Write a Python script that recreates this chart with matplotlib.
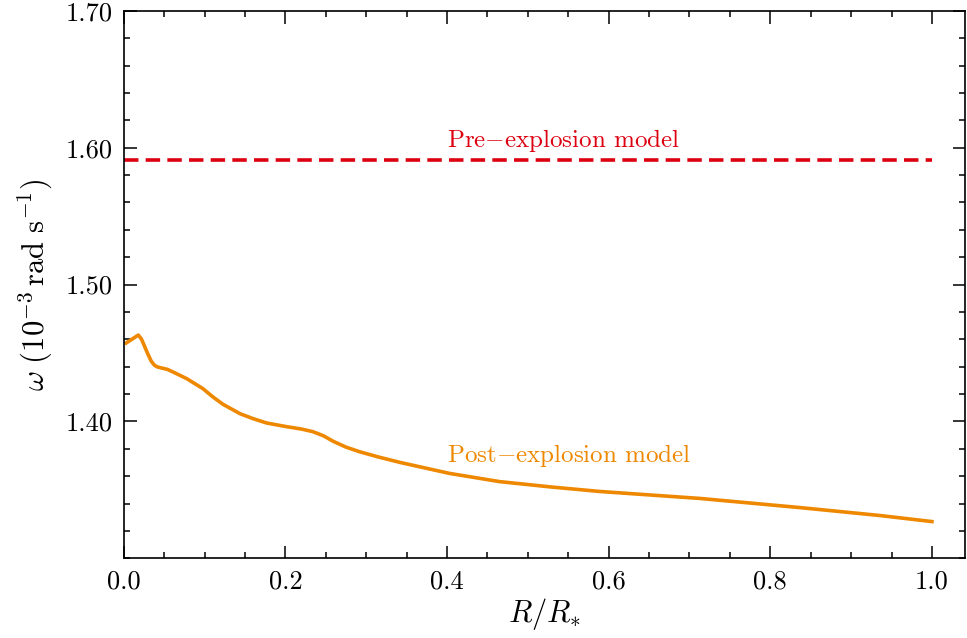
import matplotlib
matplotlib.use("Agg")
import matplotlib.pyplot as plt
from matplotlib.ticker import MultipleLocator, FormatStrFormatter

plt.rcParams["font.family"] = "serif"
plt.rcParams["font.serif"] = ["cmr10"]
plt.rcParams["mathtext.fontset"] = "cm"
plt.rcParams["axes.formatter.use_mathtext"] = True
plt.rcParams["axes.unicode_minus"] = False

# post-explosion angular velocity profile
r_post = [0.003, 0.010, 0.018, 0.022, 0.026, 0.030, 0.034, 0.038, 0.042,
          0.047, 0.054, 0.061, 0.078, 0.098, 0.110, 0.123, 0.144, 0.160,
          0.177, 0.201, 0.220, 0.234, 0.247, 0.259, 0.275, 0.292, 0.315,
          0.342, 0.403, 0.465, 0.530, 0.589, 0.713, 0.837, 0.936, 1.0]
w_post = [1.4573, 1.4600, 1.4631, 1.4600, 1.4545, 1.4490, 1.4440, 1.4410,
          1.4397, 1.4390, 1.4380, 1.4361, 1.4312, 1.4239, 1.4180, 1.4124,
          1.4056, 1.4020, 1.3988, 1.3962, 1.3944, 1.3925, 1.3895, 1.3855,
          1.3812, 1.3778, 1.3740, 1.3700, 1.3620, 1.3560, 1.3520, 1.3488,
          1.3437, 1.3370, 1.3312, 1.3268]

# pre-explosion model: uniform rotation
r_pre = [0.0, 1.0]
w_pre = [1.591, 1.591]

red = "#dd0011"
orange = "#ee8800"

fig = plt.figure(figsize=(9.67, 6.38), dpi=100)
ax = fig.add_axes([0.128, 0.125, 0.870, 0.858])

ax.plot(r_pre, w_pre, color=red, lw=2.6, ls=(0, (4.0, 2.0)))
ax.plot(r_post, w_post, color=orange, lw=2.6)

ax.text(0.4, 1.6005, r"Pre$-$explosion model", color=red, fontsize=18)
ax.text(0.4, 1.3705, r"Post$-$explosion model", color=orange, fontsize=18)

ax.set_xlim(0, 1.041)
ax.set_ylim(1.30, 1.70)
ax.set_yticks([1.40, 1.50, 1.60, 1.70])
ax.yaxis.set_major_formatter(FormatStrFormatter("%.2f"))
ax.xaxis.set_major_formatter(FormatStrFormatter("%.1f"))
ax.xaxis.set_minor_locator(MultipleLocator(0.05))
ax.yaxis.set_minor_locator(MultipleLocator(0.02))

ax.tick_params(which="both", direction="in", top=True, right=True, labelsize=19,
               width=1.1, pad=8)
ax.tick_params(which="major", length=9)
ax.tick_params(which="minor", length=4.5)
for s in ax.spines.values():
    s.set_linewidth(1.2)

ax.set_xlabel(r"$R/R_{*}$", fontsize=22, labelpad=2)
ax.set_ylabel(r"$\omega\ (10^{-3}\,\mathrm{rad\ s^{-1}})$", fontsize=22, labelpad=8)

fig.savefig("out.png", dpi=100)
